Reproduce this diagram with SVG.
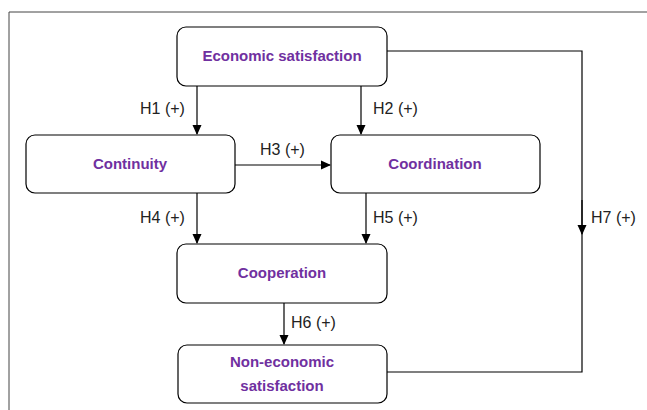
<svg xmlns="http://www.w3.org/2000/svg" width="647" height="410" viewBox="0 0 647 410">
<style>
.box{fill:#fff;stroke:#000;stroke-width:1.2}
.t{font-family:"Liberation Sans",Arial,sans-serif;font-weight:bold;font-size:15px;fill:#7030A0;text-anchor:middle}
.l{font-family:"Liberation Sans",Arial,sans-serif;font-size:16px;fill:#222}
.c{fill:none;stroke:#000;stroke-width:1.2}
</style>
<defs>
<marker id="ah" markerWidth="10" markerHeight="10" refX="9" refY="5" orient="auto" markerUnits="userSpaceOnUse">
<path d="M0,0.5 L10,5 L0,9.5 z" fill="#000"/>
</marker>
</defs>
<rect width="647" height="410" fill="#fff"/>
<path d="M9,410 V12 H647" fill="none" stroke="#444" stroke-width="1"/>
<g id="connectors">
<line class="c" x1="197" y1="86" x2="197" y2="134" marker-end="url(#ah)"/>
<line class="c" x1="361" y1="86" x2="361" y2="134" marker-end="url(#ah)"/>
<line class="c" x1="235" y1="165" x2="330" y2="165" marker-end="url(#ah)"/>
<line class="c" x1="197" y1="193" x2="197" y2="243" marker-end="url(#ah)"/>
<line class="c" x1="366" y1="193" x2="366" y2="243" marker-end="url(#ah)"/>
<line class="c" x1="284" y1="303" x2="284" y2="344" marker-end="url(#ah)"/>
<path class="c" d="M387,51 H582 V372 H387"/>
<line class="c" x1="582" y1="200" x2="582" y2="234" marker-end="url(#ah)"/>
<text class="l" x="140" y="114">H1 (+)</text>
<text class="l" x="373" y="114">H2 (+)</text>
<text class="l" x="260" y="155">H3 (+)</text>
<text class="l" x="140" y="223">H4 (+)</text>
<text class="l" x="373" y="223">H5 (+)</text>
<text class="l" x="591" y="223">H7 (+)</text>
<text class="l" x="291" y="328">H6 (+)</text>
</g>
<g id="economic">
<rect class="box" x="177" y="27" width="210" height="59" rx="9"/>
<text class="t" x="282" y="61">Economic satisfaction</text>
</g>
<g id="continuity">
<rect class="box" x="26" y="135" width="209" height="58" rx="9"/>
<text class="t" x="130" y="169">Continuity</text>
</g>
<g id="coordination">
<rect class="box" x="331" y="135" width="209" height="58" rx="9"/>
<text class="t" x="435" y="169">Coordination</text>
</g>
<g id="cooperation">
<rect class="box" x="177" y="244" width="210" height="59" rx="9"/>
<text class="t" x="282" y="278">Cooperation</text>
</g>
<g id="noneconomic">
<rect class="box" x="178" y="345" width="209" height="58" rx="9"/>
<text class="t" x="282" y="367">Non-economic</text>
<text class="t" x="282" y="391">satisfaction</text>
</g>
</svg>
